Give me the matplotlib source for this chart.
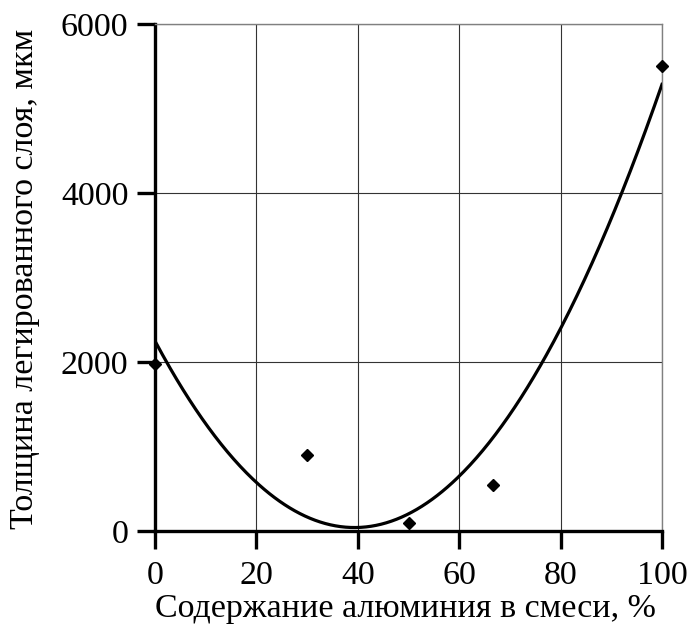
import numpy as np
import matplotlib
matplotlib.use("Agg")
import matplotlib.pyplot as plt

# Data
aluminium_pct = [0, 30, 50, 66.7, 100]
thickness_um = [1980, 900, 90, 540, 5500]
x_ticks = [0, 20, 40, 60, 80, 100]
y_ticks = [0, 2000, 4000, 6000]
x_label = "Содержание алюминия в смеси, %"
y_label = "Толщина легированного слоя, мкм"

plt.rcParams['font.family'] = ['Liberation Serif', 'DejaVu Serif']

fig = plt.figure(figsize=(6.89, 6.26), dpi=100)
ax = fig.add_axes([155/689, 1-531/626, (662-155)/689, (531-24)/626])

# Polynomial (2nd order) trend line fitted to the data
coef = np.polyfit(aluminium_pct, thickness_um, 2)
xs = np.linspace(0, 100, 400)
ax.plot(xs, np.polyval(coef, xs), color='black', lw=2.3, zorder=3)
ax.plot(aluminium_pct, thickness_um, linestyle='none', marker='D',
        markersize=6.5, color='black', zorder=4, clip_on=False)

ax.set_xlim(0, 100)
ax.set_ylim(0, 6000)
ax.set_xticks(x_ticks)
ax.set_yticks(y_ticks)
ax.grid(True, color='#333333', lw=0.8)
ax.set_axisbelow(True)

for s in ['left', 'bottom']:
    ax.spines[s].set_linewidth(2.4)
    ax.spines[s].set_color('black')
for s in ['top', 'right']:
    ax.spines[s].set_linewidth(1.0)
    ax.spines[s].set_color('#808080')

ax.tick_params(axis='both', direction='out', length=13, width=2.4,
               labelsize=24.5, color='black')
ax.tick_params(axis='x', pad=8.5)
ax.tick_params(axis='y', pad=6)

fig.text(405/689, 1-609/626, x_label, fontsize=24.5, ha='center', va='center')
fig.text(25/689, 1-279/626, y_label, rotation=90, fontsize=24.5,
         ha='center', va='center')

fig.savefig('out.png', dpi=100)
